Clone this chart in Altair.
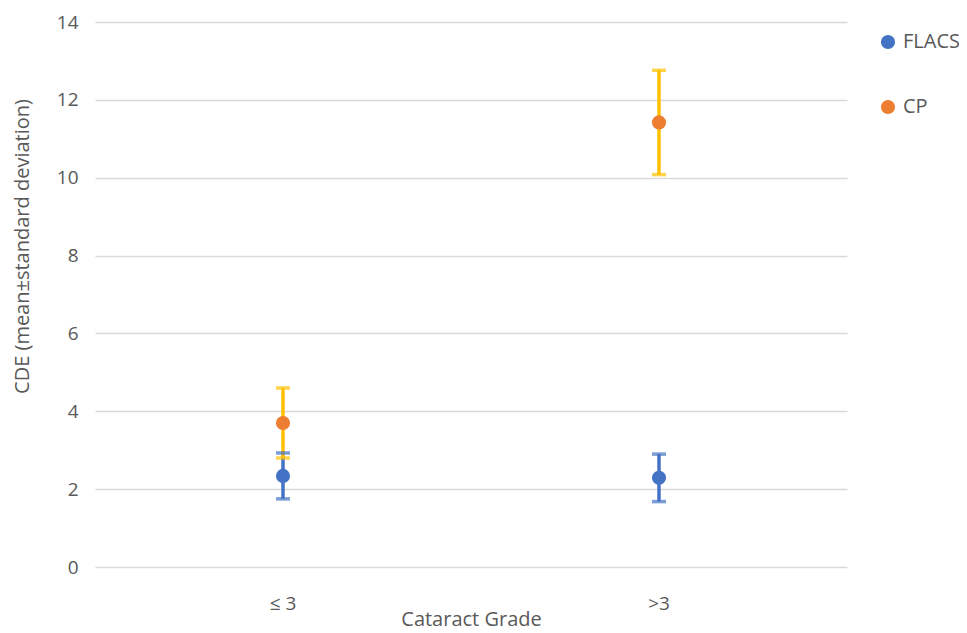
import altair as alt
import pandas as pd

categories = ["≤ 3", ">3"]
series = ["FLACS", "CP"]
flacs_mean = [2.34, 2.29]
flacs_sd = [0.59, 0.61]
cp_mean = [3.70, 11.42]
cp_sd = [0.90, 1.34]

rows = []
for i, c in enumerate(categories):
    rows.append({"grade": c, "series": "FLACS", "mean": flacs_mean[i],
                 "lo": flacs_mean[i] - flacs_sd[i], "hi": flacs_mean[i] + flacs_sd[i]})
for i, c in enumerate(categories):
    rows.append({"grade": c, "series": "CP", "mean": cp_mean[i],
                 "lo": cp_mean[i] - cp_sd[i], "hi": cp_mean[i] + cp_sd[i]})
df = pd.DataFrame(rows)

FONT = "Open Sans"
GRAY = "#595959"

x = alt.X("grade:N", sort=categories, scale=alt.Scale(paddingInner=0, paddingOuter=0),
          axis=alt.Axis(title="Cataract Grade", labelAngle=0, labelPadding=27, titlePadding=-4))
y_axis = alt.Axis(title="CDE (mean±standard deviation)", values=list(range(0, 15, 2)),
                  labelPadding=17, titlePadding=24, titleY=224, titleFontSize=20)
yscale = alt.Scale(domain=[0, 14], nice=False)

errcolor = alt.condition(alt.datum.series == "FLACS", alt.value("#4472C4"), alt.value("#FFC000"))

base = alt.Chart(df)
rules = base.mark_rule(strokeWidth=3.5).encode(
    x=x, y=alt.Y("lo:Q", scale=yscale, axis=y_axis), y2="hi:Q", color=errcolor)
cap_lo = base.mark_tick(thickness=3.5, size=14).encode(
    x=x, y=alt.Y("lo:Q", scale=yscale, axis=y_axis), color=errcolor)
cap_hi = base.mark_tick(thickness=3.5, size=14).encode(
    x=x, y=alt.Y("hi:Q", scale=yscale, axis=y_axis), color=errcolor)
points = base.mark_circle(size=200, opacity=1).encode(
    x=x, y=alt.Y("mean:Q", scale=yscale, axis=y_axis),
    color=alt.Color("series:N", sort=series,
                    scale=alt.Scale(domain=series, range=["#4472C4", "#ED7D31"]),
                    legend=alt.Legend(title=None, orient="none", legendX=783, legendY=10,
                                      symbolType="circle", symbolSize=200, rowPadding=45,
                                      labelOffset=5, symbolStrokeWidth=0)))

chart = alt.layer(rules, cap_lo, cap_hi, points).properties(
    width=752, height=545,
    autosize=alt.AutoSizeParams(type="none"),
    padding={"left": 87, "top": 14, "right": 112, "bottom": 66},
).configure_view(stroke=None).configure_axis(
    labelFontSize=19, titleFontSize=19, labelColor=GRAY, titleColor=GRAY,
    labelFont=FONT, titleFont=FONT, titleFontWeight="normal", ticks=False,
    domain=False, gridColor="#d9d9d9", gridWidth=1.5
).configure_axisX(grid=False, titleFontSize=20).configure_legend(
    labelFontSize=20, labelFont=FONT, labelColor=GRAY
)

chart.save("out.html", embed_options={"renderer": "svg", "actions": False})
